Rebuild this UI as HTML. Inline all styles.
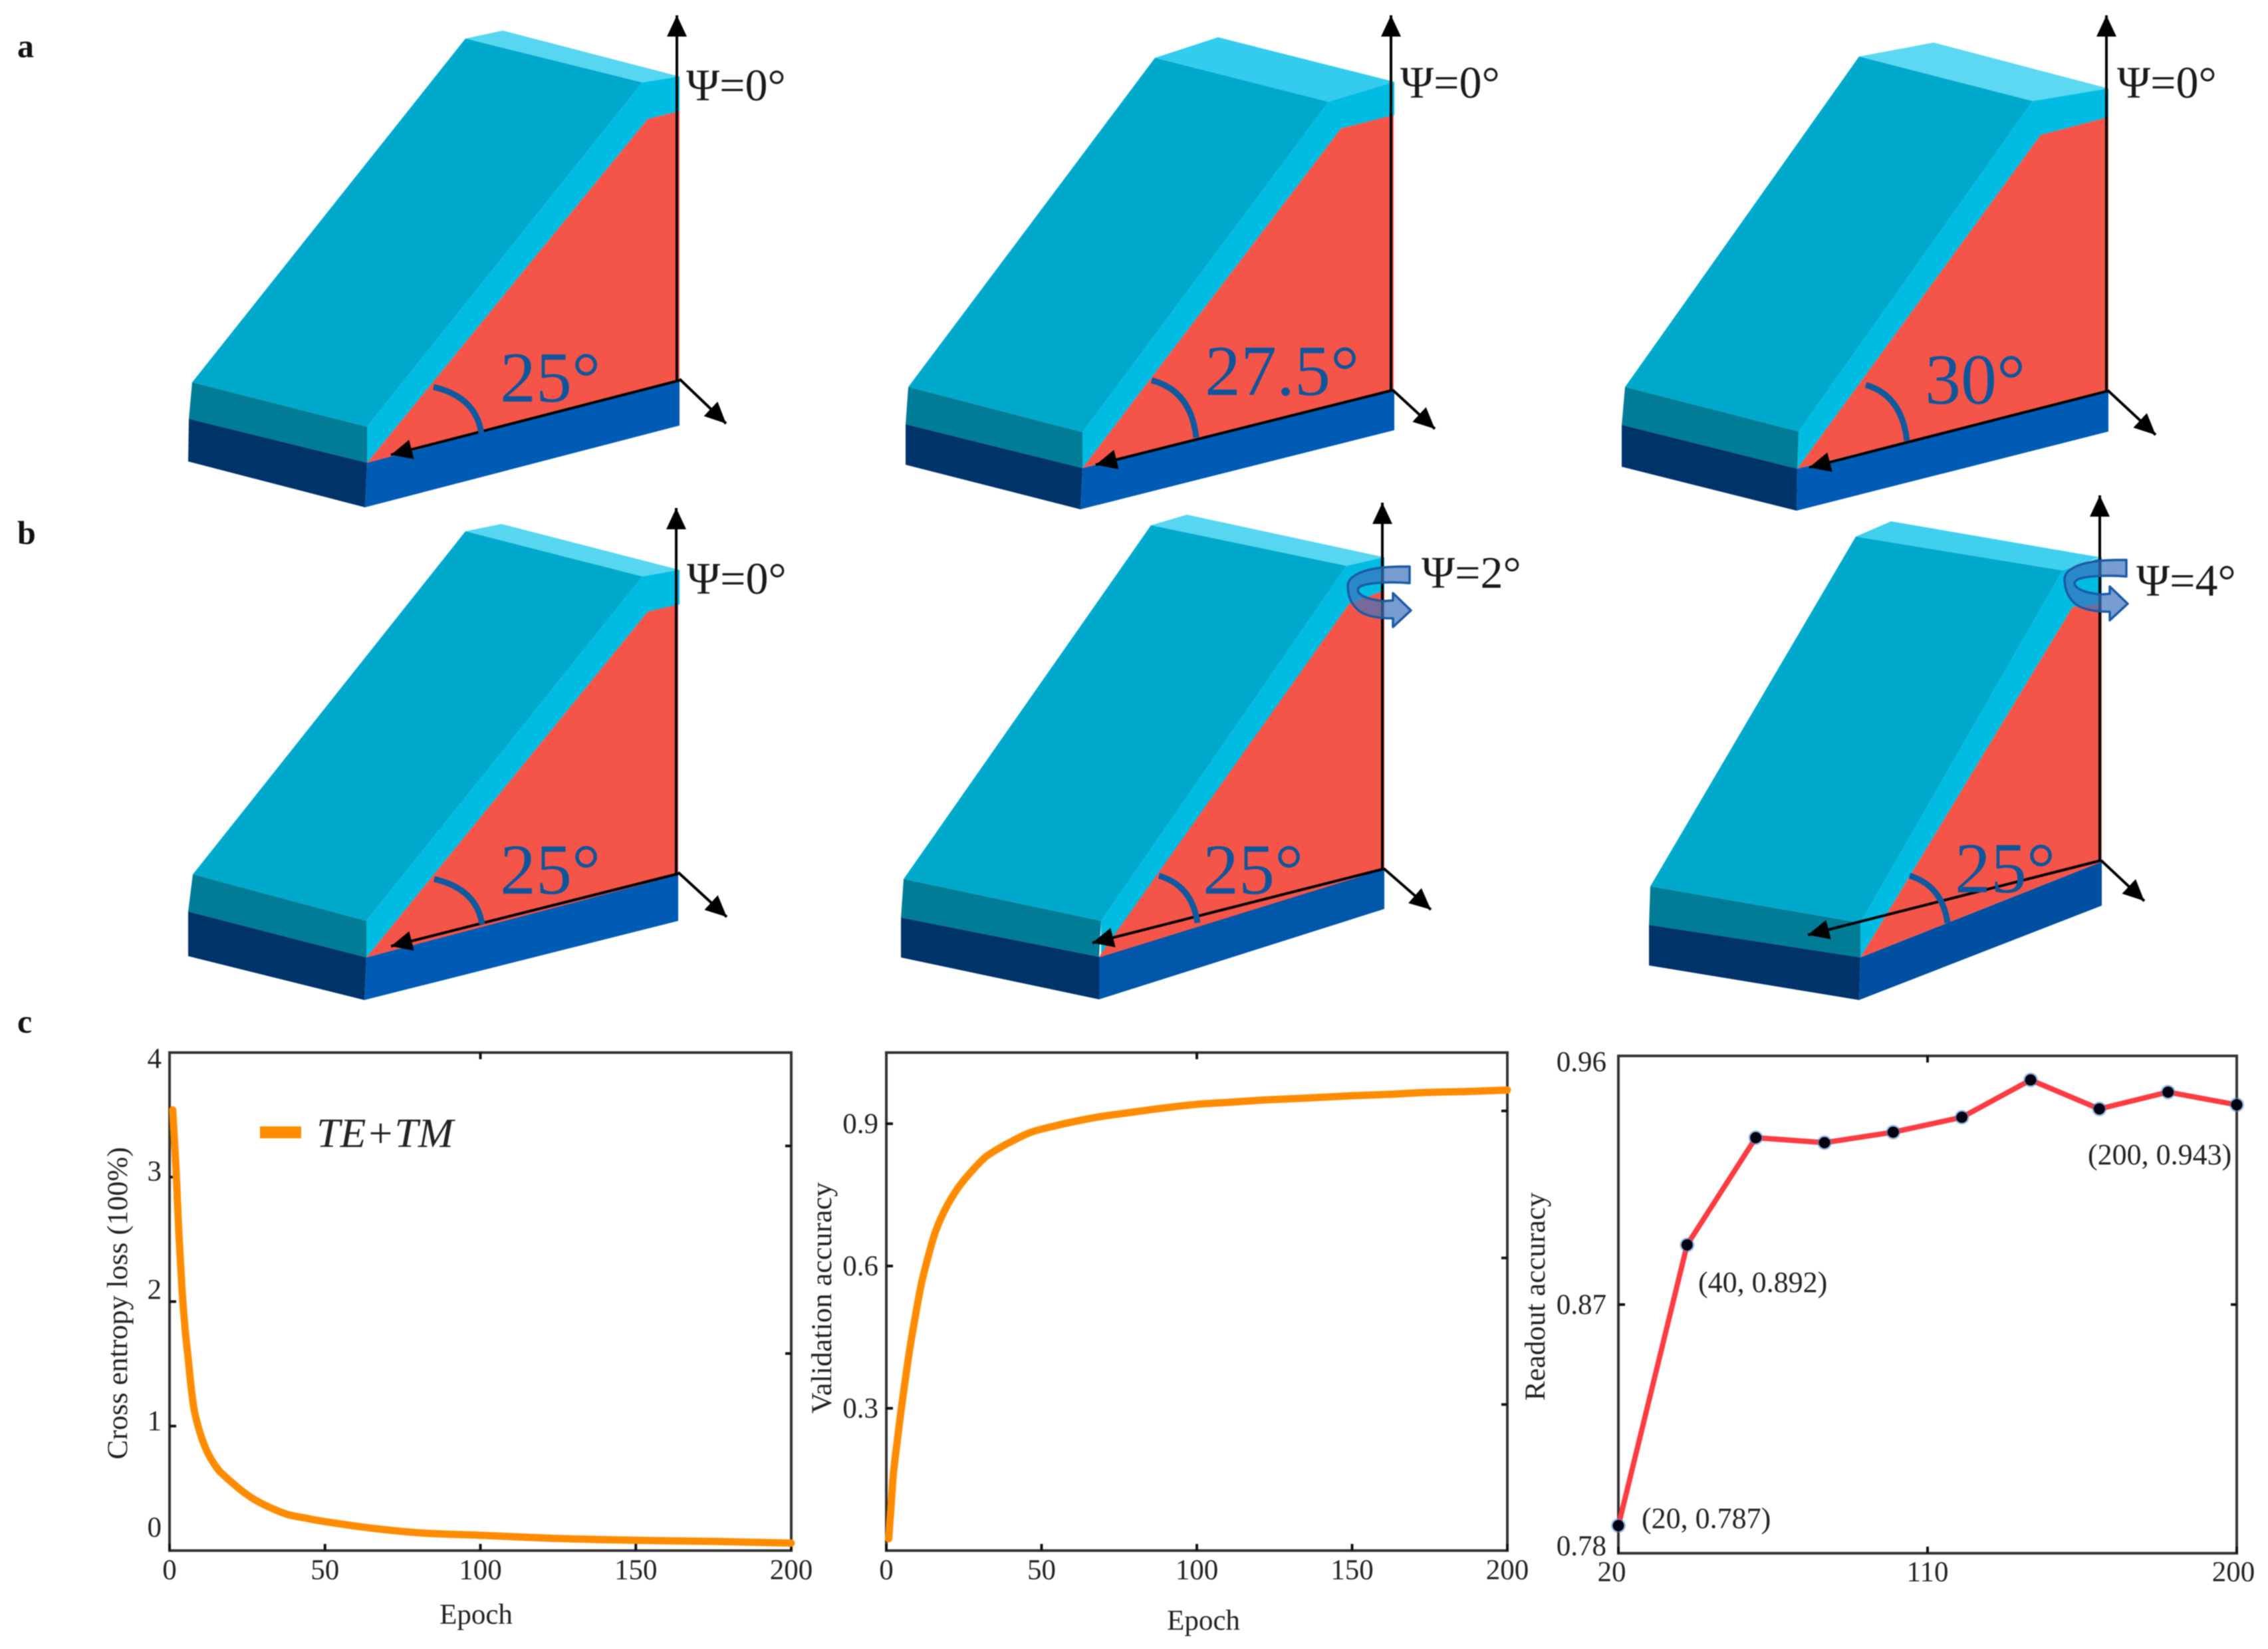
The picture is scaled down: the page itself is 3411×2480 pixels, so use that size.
<!DOCTYPE html>
<html lang="en">
<head>
<meta charset="utf-8">
<title>Wedge waveguide panels and training curves</title>
<style>
html,body{margin:0;padding:0;background:#fff}
svg{display:block;filter:blur(0.9px)}
text{font-family:"Liberation Serif",serif;fill:#222}
.ang{font-size:108px;fill:#0f559b}
.psi{font-size:68px;fill:#1a1a1a}
.let{font-size:50px;font-weight:bold;fill:#111}
.tick{font-size:43px}
.note{font-size:44px}
.axis{stroke:#000;stroke-width:4;fill:none}
.arc{stroke:#0f5a9e;stroke-width:9;fill:none}
.ring{fill:#3f74bd;fill-opacity:.7;stroke:#1b5aa5;stroke-width:3.5;stroke-linejoin:round}
</style>
</head>
<body>
<svg id="fig" xmlns="http://www.w3.org/2000/svg" width="3411" height="2480" viewBox="0 0 3411 2480">
<defs>
<marker id="ah" markerUnits="userSpaceOnUse" markerWidth="34" markerHeight="32" refX="32" refY="16" orient="auto"><path d="M0,1 L32,16 L0,31 Z" fill="#000"/></marker>
</defs>
<rect width="3411" height="2480" fill="#fff"/>

<text class="let" x="26" y="86">a</text>
<text class="let" x="26" y="818">b</text>
<text class="let" x="26" y="1553">c</text>

<!-- panel a1 -->
<g>
<polygon points="756,46 1022,115 966,124 700,58" fill="#56d6f0"/>
<polygon points="700,58 966,124 552,642 289,575" fill="#00a9cc"/>
<polygon points="966,124 1022,115 1022,167 974,179 552,696 552,642" fill="#00bce3"/>
<polygon points="289,575 552,642 552,696 284,630" fill="#007c96"/>
<polygon points="284,630 552,696 549,763 283,694" fill="#003369"/>
<polygon points="552,696 1022,572 1022,640 549,763" fill="#005bb5"/>
<polygon points="552,696 1022,572 1022,167 974,179" fill="#f55549"/>
<line class="axis" x1="1018" y1="572" x2="1018" y2="23" marker-end="url(#ah)"/>
<line class="axis" x1="1022" y1="570" x2="1092" y2="637" marker-end="url(#ah)"/>
<line class="axis" x1="1022" y1="572" x2="588" y2="684" marker-end="url(#ah)"/>
<path class="arc" d="M652,582 Q716,597 724,652"/>
<text class="ang" x="752" y="604">25°</text>
<text class="psi" x="1032" y="151">Ψ=0°</text>
</g>

<!-- panel a2 -->
<g>
<polygon points="1832,56 2097,123 1998,153 1737,87" fill="#33ccee"/>
<polygon points="1737,87 1998,153 1628,650 1366,582" fill="#00a9cc"/>
<polygon points="1998,153 2097,123 2097,173 2017,193 1628,704 1628,650" fill="#00bce3"/>
<polygon points="1366,582 1628,650 1628,704 1362,638" fill="#007c96"/>
<polygon points="1362,638 1628,704 1625,766 1362,699" fill="#003369"/>
<polygon points="1628,704 2097,587 2097,647 1625,766" fill="#005bb5"/>
<polygon points="1628,704 2096,587 2096,173 2017,193" fill="#f55549"/>
<line class="axis" x1="2092" y1="587" x2="2092" y2="23" marker-end="url(#ah)"/>
<line class="axis" x1="2094" y1="586" x2="2158" y2="645" marker-end="url(#ah)"/>
<line class="axis" x1="2094" y1="587" x2="1648" y2="699" marker-end="url(#ah)"/>
<path class="arc" d="M1732,572 Q1791,587 1799,658"/>
<text class="ang" x="1812" y="594">27.5°</text>
<text class="psi" x="2106" y="147">Ψ=0°</text>
</g>

<!-- panel a3 -->
<g>
<polygon points="2908,64 3171,133 3057,152 2796,85" fill="#5cd8f2"/>
<polygon points="2796,85 3057,152 2705,649 2444,582" fill="#00a9cc"/>
<polygon points="3057,152 3171,133 3171,176 3069,203 2703,705 2705,649" fill="#00bce3"/>
<polygon points="2444,582 2705,649 2703,705 2439,639" fill="#007c96"/>
<polygon points="2439,639 2703,705 2702,768 2439,702" fill="#003369"/>
<polygon points="2703,705 3171,589 3171,649 2702,768" fill="#005bb5"/>
<polygon points="2703,705 3171,588 3171,176 3069,203" fill="#f55549"/>
<line class="axis" x1="3168" y1="589" x2="3168" y2="23" marker-end="url(#ah)"/>
<line class="axis" x1="3170" y1="587" x2="3242" y2="654" marker-end="url(#ah)"/>
<line class="axis" x1="3170" y1="588" x2="2721" y2="703" marker-end="url(#ah)"/>
<path class="arc" d="M2806,579 Q2860,594 2868,663"/>
<text class="ang" x="2895" y="607">30°</text>
<text class="psi" x="3184" y="147">Ψ=0°</text>
</g>

<!-- panel b1 -->
<g>
<polygon points="754,788 1022,857 966,867 700,799" fill="#56d6f0"/>
<polygon points="700,799 966,867 551,1385 290,1315" fill="#00a9cc"/>
<polygon points="966,867 1022,857 1022,909 974,920 551,1440 551,1385" fill="#00bce3"/>
<polygon points="290,1315 551,1385 551,1440 283,1371" fill="#007c96"/>
<polygon points="283,1371 551,1440 548,1504 283,1438" fill="#003369"/>
<polygon points="551,1440 1020,1315 1020,1385 548,1504" fill="#005bb5"/>
<polygon points="551,1440 1020,1316 1020,909 974,920" fill="#f55549"/>
<line class="axis" x1="1017" y1="1317" x2="1017" y2="764" marker-end="url(#ah)"/>
<line class="axis" x1="1020" y1="1312" x2="1093" y2="1379" marker-end="url(#ah)"/>
<line class="axis" x1="1020" y1="1314" x2="588" y2="1423" marker-end="url(#ah)"/>
<path class="arc" d="M653,1322 Q717,1337 725,1390"/>
<text class="ang" x="752" y="1344">25°</text>
<text class="psi" x="1033" y="893">Ψ=0°</text>
</g>

<!-- panel b2 -->
<g>
<polygon points="1785,774 2082,838 2025,851 1731,790" fill="#56d6f0"/>
<polygon points="1731,790 2025,851 1656,1385 1359,1322" fill="#00a9cc"/>
<polygon points="2025,851 2082,838 2082,888 2029,908 1656,1436 1656,1385" fill="#00bce3"/>
<polygon points="1359,1322 1656,1385 1653,1439 1355,1380" fill="#007c96"/>
<polygon points="1355,1380 1653,1439 1653,1503 1355,1440" fill="#003369"/>
<polygon points="1653,1439 2082,1307 2082,1367 1653,1503" fill="#0056a8"/>
<polygon points="1653,1440 2082,1307 2082,888 2029,908 1656,1434" fill="#f55549"/>
<line class="axis" x1="2079" y1="1308" x2="2079" y2="756" marker-end="url(#ah)"/>
<line class="axis" x1="2081" y1="1306" x2="2152" y2="1368" marker-end="url(#ah)"/>
<line class="axis" x1="2080" y1="1307" x2="1643" y2="1418" marker-end="url(#ah)"/>
<path class="arc" d="M1743,1317 Q1793,1332 1801,1388"/>
<text class="ang" x="1809" y="1344">25°</text>
<text class="psi" x="2138" y="884">Ψ=2°</text>
<path class="ring" d="M2120,852 L2120,877 C2095,875 2075,876 2060,878 C2045,880 2042,884 2042,888 C2044,897 2062,902 2080,904 L2095,903 L2095,892 L2122,918 L2095,943 L2095,930 C2070,930 2050,926 2040,915 C2030,905 2027,892 2027,880 C2028,868 2045,858 2075,854 C2090,852 2105,852 2120,852 Z"/>
</g>

<!-- panel b3 -->
<g>
<polygon points="2844,784 3158,838 3102,858 2791,807" fill="#40d0ee"/>
<polygon points="2791,807 3102,858 2798,1388 2482,1333" fill="#00a9cc"/>
<polygon points="3102,858 3161,838 3161,909 3117,913 2798,1440 2798,1388" fill="#00bce3"/>
<polygon points="2482,1333 2798,1388 2798,1440 2480,1391" fill="#007c96"/>
<polygon points="2480,1391 2798,1440 2796,1504 2480,1452" fill="#003369"/>
<polygon points="2798,1440 3161,1296 3161,1362 2796,1504" fill="#004fa0"/>
<polygon points="2798,1440 3161,1296 3161,909 3117,913" fill="#f55549"/>
<line class="axis" x1="3158" y1="1296" x2="3158" y2="745" marker-end="url(#ah)"/>
<line class="axis" x1="3160" y1="1294" x2="3225" y2="1355" marker-end="url(#ah)"/>
<line class="axis" x1="3160" y1="1294" x2="2719" y2="1406" marker-end="url(#ah)"/>
<path class="arc" d="M2872,1317 Q2921,1332 2929,1388"/>
<text class="ang" x="2940" y="1342">25°</text>
<text class="psi" x="3213" y="896">Ψ=4°</text>
<path class="ring" transform="translate(1078,-10)" d="M2120,852 L2120,877 C2095,875 2075,876 2060,878 C2045,880 2042,884 2042,888 C2044,897 2062,902 2080,904 L2095,903 L2095,892 L2122,918 L2095,943 L2095,930 C2070,930 2050,926 2040,915 C2030,905 2027,892 2027,880 C2028,868 2045,858 2075,854 C2090,852 2105,852 2120,852 Z"/>
</g>

<g id="charts"></g>
</svg>

<script>
// ---- chart data ----
const lossEpochs = [1,2,3,4,5,6,7,8,10,12,14,16,19,23,27,32,38,44,50,65,82,100,125,150,176,200];
const lossValues = [3.54,3.1,2.55,2.1,1.78,1.54,1.3,1.12,0.93,0.8,0.71,0.64,0.57,0.485,0.415,0.35,0.29,0.26,0.233,0.18,0.14,0.123,0.097,0.083,0.073,0.06];
const lossXTicks = [0,50,100,150,200];
const lossYTicks = [0,1,2,3,4];
const lossRightTicks = [1.583,3.25];

const accEpochs = [0.75,1.5,2.25,3.4,4.5,6,7.5,9.5,11.3,13.5,15.8,19,22.6,25.5,28.6,32,36,41,46.6,54,61.6,69,76.7,88,100,110,121.8,135,150,162,174.4,187,200];
const accValues = [0.025,0.09,0.16,0.225,0.283,0.355,0.423,0.5,0.563,0.62,0.672,0.72,0.76,0.785,0.808,0.83,0.847,0.865,0.882,0.895,0.906,0.915,0.922,0.932,0.941,0.945,0.95,0.954,0.959,0.962,0.966,0.968,0.971];
const accXTicks = [0,50,100,150,200];
const accYTicks = [0.3,0.6,0.9];
const accRightTicks = [0.308,0.617,0.927];

const readoutEpochs = [20,40,60,80,100,120,140,160,180,200];
const readoutValues = [0.79,0.8916,0.9304,0.9286,0.9324,0.9378,0.9513,0.9408,0.9469,0.9423];
const readoutXTicks = [20,110,200];
const readoutYTicks = [0.78,0.87,0.96];
const readoutRightTicks = [0.87];
const readoutNotes = ['(20, 0.787)','(40, 0.892)','(200, 0.943)'];

const NS = 'http://www.w3.org/2000/svg';
const root = document.getElementById('charts');
function make(parent, tag, attrs, txt){
  const el = document.createElementNS(NS, tag);
  for (const k in attrs) el.setAttribute(k, attrs[k]);
  if (txt !== undefined) el.textContent = txt;
  parent.appendChild(el);
  return el;
}
function scale(d0,d1,r0,r1){ return v => r0 + (v-d0)/(d1-d0)*(r1-r0); }
function smoothPath(p){
  let d = 'M'+p[0][0].toFixed(1)+','+p[0][1].toFixed(1);
  for (let i=0;i<p.length-1;i++){
    const a=p[Math.max(i-1,0)], b=p[i], c=p[i+1], e=p[Math.min(i+2,p.length-1)];
    const c1x=b[0]+(c[0]-a[0])/6, c1y=b[1]+(c[1]-a[1])/6;
    const c2x=c[0]-(e[0]-b[0])/6, c2y=c[1]-(e[1]-b[1])/6;
    d+=' C'+c1x.toFixed(1)+','+c1y.toFixed(1)+' '+c2x.toFixed(1)+','+c2y.toFixed(1)+' '+c[0].toFixed(1)+','+c[1].toFixed(1);
  }
  return d;
}

function drawChart(o){
  const g = make(root,'g',{});
  
  
  const X = scale(o.xDom[0],o.xDom[1],o.box[0],o.box[1]);
  const Y = scale(o.yDom[0],o.yDom[1],o.box[3],o.box[2]);

  const frame = make(g,'rect',{x:o.box[0],y:o.box[2],width:o.box[1]-o.box[0],height:o.box[3]-o.box[2],fill:'none',stroke:'#333','stroke-width':4});
  
  

  o.xTicks.forEach((t,i) => {
    const tk = make(g,'line',{x1:X(t),x2:X(t),y1:o.box[3],y2:o.box[3]-10,stroke:'#111','stroke-width':4});
    
    
    const lb = make(g,'text',{class:'tick',x:X(t)+(o.xNudge?o.xNudge[i]:0),y:o.xLabelY,'text-anchor':'middle'},String(t));
    
    
  });
  const mid = (o.xDom[0]+o.xDom[1])/2;
  const tt = make(g,'line',{x1:X(mid),x2:X(mid),y1:o.box[2],y2:o.box[2]+10,stroke:'#111','stroke-width':4});
  
  

  o.yTicks.forEach((t,i) => {
    if (t !== o.yDom[0] && t !== o.yDom[1]) {
      const tk = make(g,'line',{x1:o.box[0],x2:o.box[0]+10,y1:Y(t),y2:Y(t),stroke:'#111','stroke-width':4});
      
      
    }
    const lb = make(g,'text',{class:'tick',x:o.yLabelX,y:Y(t)+14+(o.yNudge?o.yNudge[i]:0),'text-anchor':'end'},o.yFmt(t));
    
    
  });
  o.rightTicks.forEach(t => {
    const tk = make(g,'line',{x1:o.box[1],x2:o.box[1]-9,y1:Y(t),y2:Y(t),stroke:'#111','stroke-width':4});
    
    
  });

  if (o.xTitle) {
    const xt = make(g,'text',{class:'tick',x:o.xTitle[0],y:o.xTitle[1],'text-anchor':'middle'},'Epoch');
    
    
  }
  const yt = make(g,'text',{class:'tick',transform:'translate('+o.yTitle[0]+','+o.yTitle[1]+') rotate(-90)','text-anchor':'middle',textLength:o.yTitle[3],lengthAdjust:'spacingAndGlyphs'},o.yTitle[2]);
  
  

  const pixelPts = o.xs.map((x,i) => [X(x),Y(o.ys[i])]);
  const d = o.markers
    ? 'M'+pixelPts.map(p => p[0].toFixed(1)+','+p[1].toFixed(1)).join(' L')
    : smoothPath(pixelPts);
  const line = make(g,'path',{d:d,fill:'none',stroke:o.color,'stroke-width':o.lw,'stroke-linejoin':'round','stroke-linecap':'round'});
  
  

  if (o.markers) {
    o.xs.forEach((x,i) => {
      const halo = make(g,'circle',{cx:X(x),cy:Y(o.ys[i]),r:11,fill:'#4a86c8','fill-opacity':0.55});
      
      
      const c = make(g,'circle',{cx:X(x),cy:Y(o.ys[i]),r:8.5,fill:'#020212'});
      
      
    });
  }
  return g;
}

drawChart({name:'loss-chart',box:[255,1190,1583,2332],xDom:[0,200],yDom:[0,4],xs:lossEpochs,ys:lossValues,
  xTicks:lossXTicks,yTicks:lossYTicks,rightTicks:lossRightTicks,xLabelY:2375,yLabelX:243,yNudge:[-35,-8,-18,-9,9],
  yFmt:String,xTitle:[716,2442],yTitle:[191,1960,'Cross entropy loss (100%)',470],color:'#ff8c00',lw:11,lineName:'loss-curve'});

drawChart({name:'validation-chart',box:[1333,2267,1583,2332],xDom:[0,200],yDom:[0,1.05],xs:accEpochs,ys:accValues,
  xTicks:accXTicks,yTicks:accYTicks,rightTicks:accRightTicks,xLabelY:2375,yLabelX:1321,
  yFmt:v=>v.toFixed(1),xTitle:[1810,2451],yTitle:[1250,1952,'Validation accuracy',348],color:'#ff8c00',lw:11,lineName:'validation-curve'});

drawChart({name:'readout-chart',box:[2434,3364,1588,2336],xDom:[20,200],yDom:[0.78,0.96],xs:readoutEpochs,ys:readoutValues,
  xTicks:readoutXTicks,yTicks:readoutYTicks,rightTicks:readoutRightTicks,xLabelY:2378,xNudge:[-10,0,-5],yLabelX:2416,yNudge:[-11,0,9],
  yFmt:v=>v.toFixed(2),yTitle:[2323,1950,'Readout accuracy',313],color:'#fb3c42',lw:8,lineName:'readout-line',markers:true});

const legendG = make(root,'g',{});


const legendSwatch = make(legendG,'rect',{x:391,y:1694,width:62,height:18,fill:'#ff8c00'});


const legendText = make(legendG,'text',{x:476,y:1725,'font-size':62,'font-style':'italic',textLength:206,lengthAdjust:'spacingAndGlyphs'},'TE+TM');



const noteAnchors = [[2469,2298],[2554,1943],[3140,1751]];
readoutNotes.forEach((n,i) => {
  const t = make(root,'text',{class:'note',x:noteAnchors[i][0],y:noteAnchors[i][1]},n);
  
  
});
</script>
</body>
</html>
